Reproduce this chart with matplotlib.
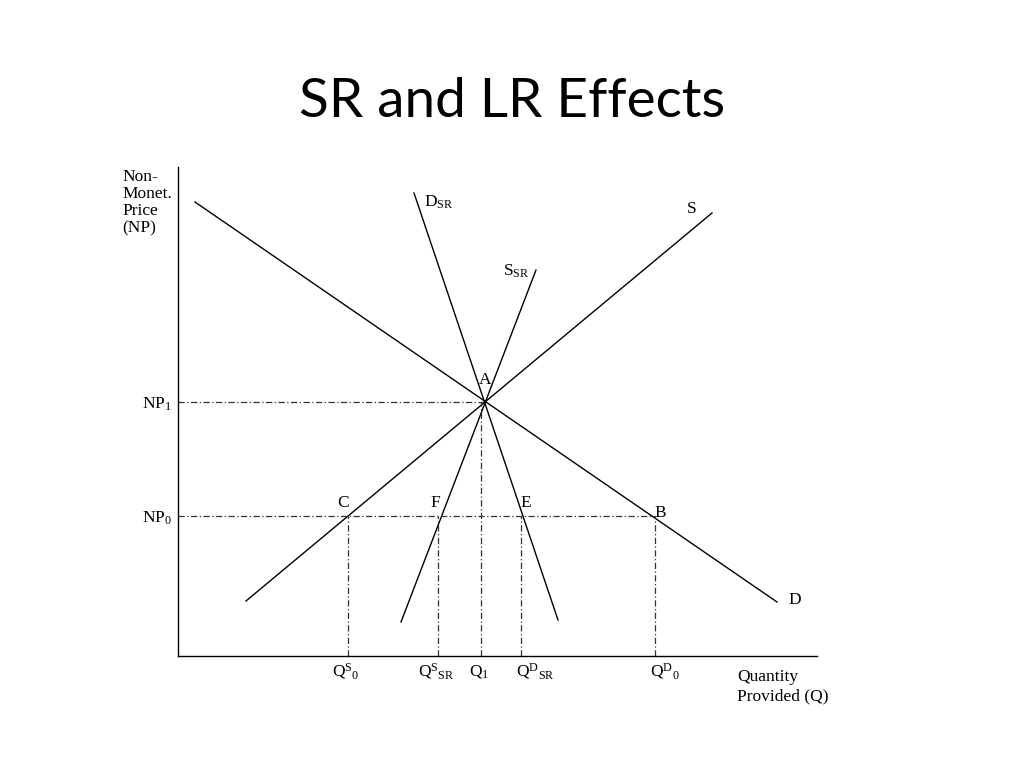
import matplotlib.pyplot as plt

# SR and LR effects diagram: values (units ~ 10 px)
Q_MAX = 63.9
NP_MAX = 48.9

# curve end points (quantity, non-monetary price)
d_lr_q = [1.7, 59.9]
d_lr_np = [45.4, 5.4]
s_lr_q = [6.8, 53.4]
s_lr_np = [5.5, 44.3]
d_sr_q = [23.6, 38.0]
d_sr_np = [46.3, 3.6]
s_sr_q = [22.3, 35.8]
s_sr_np = [3.4, 38.6]

# equilibrium A and price levels
a_q = 30.5
np_levels = [14.0, 25.4]          # NP0, NP1
np_labels = [r'$\mathrm{NP_{0}}$', r'$\mathrm{NP_{1}}$']

# quantities on the horizontal axis
q_marks = [17.0, 26.0, 30.3, 34.3, 47.7]
q_labels = [r'$\mathrm{Q^{S}{}_{0}}$', r'$\mathrm{Q^{S}{}_{SR}}$', r'$\mathrm{Q_{1}}$',
            r'$\mathrm{Q^{D}{}_{SR}}$', r'$\mathrm{Q^{D}{}_{0}}$']
point_labels = ['C', 'F', None, 'E', 'B']

plt.rcParams['mathtext.fontset'] = 'custom'
plt.rcParams['mathtext.rm'] = 'Liberation Serif'
plt.rcParams['mathtext.it'] = 'Liberation Serif:italic'
plt.rcParams['font.family'] = 'Liberation Serif'

fig = plt.figure(figsize=(10.24, 7.68), dpi=100)
fig.text(0.5, 1 - 117 / 768, 'SR and LR Effects', ha='center', va='baseline',
         fontsize=39.5, family='Lato')

ax = fig.add_axes([178 / 1024, 112 / 768, 639 / 1024, 489 / 768])
ax.set_xlim(0, Q_MAX)
ax.set_ylim(0, NP_MAX)
ax.spines['top'].set_visible(False)
ax.spines['right'].set_visible(False)
ax.spines['left'].set_linewidth(1.0)
ax.spines['bottom'].set_linewidth(1.0)
ax.set_xticks([])
ax.set_yticks([])

line_kw = dict(color='black', lw=1.0)
ax.plot(d_lr_q, d_lr_np, **line_kw)
ax.plot(s_lr_q, s_lr_np, **line_kw)
ax.plot(d_sr_q, d_sr_np, **line_kw)
ax.plot(s_sr_q, s_sr_np, **line_kw)

dash_kw = dict(color='#333333', lw=0.9, ls=(0, (5, 2, 1, 2)))
# horizontal guides
ax.plot([0, a_q], [np_levels[1]] * 2, **dash_kw)
ax.plot([0, q_marks[-1]], [np_levels[0]] * 2, **dash_kw)
# vertical guides
for i, q in enumerate(q_marks):
    top = np_levels[1] if point_labels[i] is None else np_levels[0]
    ax.plot([q, q], [0, top], **dash_kw)

fs = 12.5
# axis titles
ax.text(-5.6, 48.7, 'Non-\nMonet.\nPrice\n(NP)', ha='left', va='top',
        fontsize=fs, linespacing=1.1, clip_on=False)
ax.text(55.9, -1.3, 'Quantity\nProvided (Q)', ha='left', va='top',
        fontsize=fs, linespacing=1.25, clip_on=False)

for lvl, lab in zip(np_levels, np_labels):
    ax.text(-0.6, lvl - 0.2, lab, ha='right', va='center', fontsize=fs, clip_on=False)

for q, lab in zip(q_marks, q_labels):
    if 'D' in lab:
        ax.text(q - 0.5, -1.5, lab, ha='left', va='center', fontsize=fs, clip_on=False)
    else:
        ax.text(q - 0.2, -1.5, lab, ha='center', va='center', fontsize=fs, clip_on=False)

# curve labels
ax.text(d_sr_q[0] + 1.0, d_sr_np[0] - 0.9, r'$\mathrm{D_{SR}}$', ha='left', va='center', fontsize=fs)
ax.text(s_sr_q[1] - 3.3, s_sr_np[1] - 0.1, r'$\mathrm{S_{SR}}$', ha='left', va='center', fontsize=fs)
ax.text(s_lr_q[1] - 2.0, s_lr_np[1] + 0.4, 'S', ha='center', va='center', fontsize=fs)
ax.text(d_lr_q[1] + 1.8, d_lr_np[1] + 0.2, 'D', ha='center', va='center', fontsize=fs)
ax.text(a_q + 0.2, np_levels[1] + 2.2, 'A', ha='center', va='center', fontsize=fs)

# intersection labels on NP0
offsets = [-0.5, -0.3, None, 0.5, 0.5]
for q, lab, dx in zip(q_marks, point_labels, offsets):
    if lab is None:
        continue
    dy = 0.3 if lab == 'B' else 1.3
    ax.text(q + dx, np_levels[0] + dy, lab, ha='center', va='center', fontsize=fs)

fig.savefig('out.png', dpi=100)
